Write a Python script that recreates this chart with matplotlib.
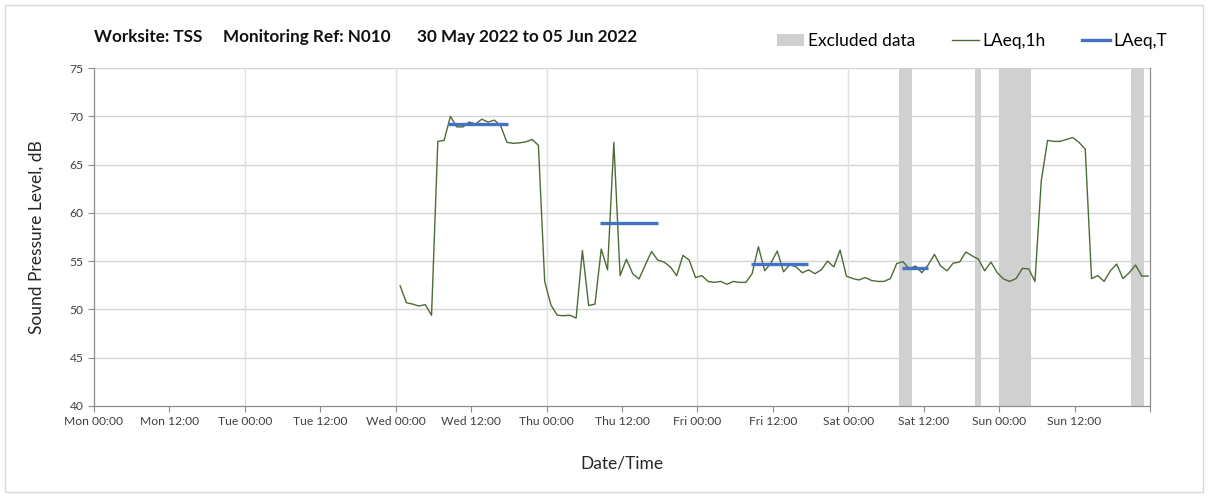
import numpy as np
import matplotlib
matplotlib.use("Agg")
from matplotlib import pyplot as plt
from matplotlib.patches import Patch, Rectangle
from matplotlib.lines import Line2D

plt.rcParams['font.family'] = ['Lato', 'DejaVu Sans']

# Hourly LAeq values, first reading at Wed 00:42 (hours since Mon 00:00)
start_hour = 48.7
laeq_1h = [
    52.45, 50.7, 50.55, 50.35, 50.5, 49.4, 67.4, 67.5, 70.0, 68.9,
    68.9, 69.4, 69.2, 69.7, 69.4, 69.6, 69.0, 67.3, 67.2, 67.25,
    67.35, 67.6, 67.0, 52.9, 50.45, 49.4, 49.35, 49.4, 49.1, 56.1,
    50.4, 50.55, 56.25, 54.1, 67.3, 53.5, 55.2, 53.7, 53.15, 54.6,
    56.0, 55.1, 54.9, 54.4, 53.5, 55.6, 55.1, 53.3, 53.5, 52.9,
    52.8, 52.9, 52.6, 52.9, 52.8, 52.8, 53.7, 56.5, 54.0, 54.8,
    56.05, 53.9, 54.65, 54.4, 53.8, 54.1, 53.7, 54.1, 55.0, 54.4,
    56.15, 53.45, 53.2, 53.05, 53.3, 53.0, 52.9, 52.9, 53.2, 54.75,
    54.95, 54.2, 54.5, 53.8, 54.6, 55.7, 54.5, 54.0, 54.8, 54.9,
    55.95, 55.55, 55.2, 54.0, 54.9, 53.8, 53.15, 52.9, 53.2, 54.25,
    54.2, 52.9, 63.3, 67.5, 67.4, 67.4, 67.6, 67.8, 67.3, 66.6,
    53.2, 53.5, 52.9, 54.0, 54.7, 53.2, 53.8, 54.6, 53.45, 53.45,
]
hours = start_hour + np.arange(len(laeq_1h))

# LAeq,T periods: start hour, end hour, level
laeq_t_start = [56.3, 80.5, 104.5, 128.5]
laeq_t_end = [65.8, 89.8, 113.6, 132.7]
laeq_t_level = [69.2, 59.0, 54.7, 54.3]

# Excluded data windows (hours since Mon 00:00)
excl_start = [128.1, 140.2, 144.0, 165.0]
excl_end = [130.1, 141.1, 149.0, 167.0]

tick_labels = ["Mon 00:00", "Mon 12:00", "Tue 00:00", "Tue 12:00",
               "Wed 00:00", "Wed 12:00", "Thu 00:00", "Thu 12:00",
               "Fri 00:00", "Fri 12:00", "Sat 00:00", "Sat 12:00",
               "Sun 00:00", "Sun 12:00", ""]

title_parts = ["Worksite: TSS", "Monitoring Ref: N010", "30 May 2022 to 05 Jun 2022"]
title_x = [94, 223, 417]

fig = plt.figure(figsize=(12.08, 4.97), dpi=100)
ax = fig.add_axes([94 / 1208, 1 - 406 / 497, (1150 - 94) / 1208, (406 - 68) / 497])

grey = "#d0d0d0"
olive = "#4e6b35"
blue = "#4472c4"

for s, e in zip(excl_start, excl_end):
    ax.axvspan(s, e, color=grey, lw=0, zorder=1)

ax.plot(hours, laeq_1h, color=olive, lw=1.0, zorder=3)
for s, e, v in zip(laeq_t_start, laeq_t_end, laeq_t_level):
    ax.plot([s, e], [v, v], color=blue, lw=2.4, zorder=4, solid_capstyle="butt")

ax.set_xlim(0, 168)
ax.set_ylim(40, 75)
ax.set_xticks(np.arange(0, 169, 12))
ax.set_xticklabels(tick_labels)
ax.set_yticks(np.arange(40, 76, 5))
ax.tick_params(axis="both", labelsize=8.7, colors="#404040", length=4, width=0.8)
ax.tick_params(axis="both", color="#8c8c8c")

# gridlines: horizontal every 5 dB, vertical once per day
for v in range(45, 76, 5):
    ax.axhline(v, color="#d4d4d4", lw=1.0, zorder=0)
for d in range(24, 168, 24):
    ax.axvline(d, color="#e0e0e0", lw=1.0, zorder=0)

for sp in ax.spines.values():
    sp.set_color("#8c8c8c")
    sp.set_linewidth(0.9)
ax.spines["top"].set_visible(False)

ax.set_ylabel("Sound Pressure Level, dB", fontsize=12.5, color="#262626", labelpad=18)
ax.set_xlabel("Date/Time", fontsize=12.5, color="#262626", labelpad=20)

for txt, x in zip(title_parts, title_x):
    fig.text(x / 1208, 1 - 37 / 497, txt, fontsize=12.3, fontweight="bold",
             color="#111111", va="center", ha="left")

handles = [Patch(facecolor=grey, edgecolor="none"),
           Line2D([], [], color=olive, lw=1.0),
           Line2D([], [], color=blue, lw=2.4)]
fig.legend(handles, ["Excluded data", "LAeq,1h", "LAeq,T"], loc="center",
           bbox_to_anchor=(972 / 1208, 1 - 41 / 497), ncol=3, frameon=False,
           fontsize=12.5, handlelength=1.6, columnspacing=2.1, handletextpad=0.2)

# outer chart frame
fig.patches.append(Rectangle((5 / 1208, 5 / 497), 1198 / 1208, 487 / 497,
                             transform=fig.transFigure, fill=False,
                             edgecolor="#d9d9d9", lw=1.0))

fig.savefig("out.png", dpi=100)
